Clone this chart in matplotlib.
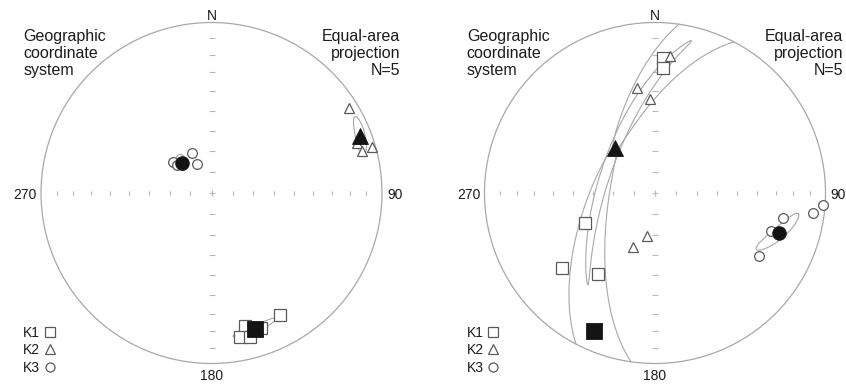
import numpy as np
import matplotlib.pyplot as plt
from matplotlib.lines import Line2D
from matplotlib.patches import Circle

plt.rcParams['font.family'] = ['Liberation Sans', 'DejaVu Sans']

# --- principal susceptibility axes, declination / inclination (deg) ---
# site A (left net)
a_k1_dec = [150.9, 165.8, 168.8, 165.2, 160.0]
a_k1_inc = [19.0, 20.7, 15.0, 13.8, 17.0]
a_k2_dec = [58.2, 73.9, 71.1, 74.6, 69.0]
a_k2_inc = [6.0, 2.1, 10.6, 9.2, 7.0]
a_k3_dec = [333.5, 332.7, 308.8, 309.1, 318.0]
a_k3_inc = [68.7, 74.6, 66.5, 68.7, 70.0]
a_mean_dec = [162.2, 69.2, 315.5]
a_mean_inc = [17.5, 7.3, 69.6]
# confidence ellipses: direction of the long axis, semi-angles along / across it
a_ell_dec = [69.2, 162.2, 162.2]
a_ell_inc = [7.3, 17.5, 17.5]
a_ell_major = [9.0, 7.5, 4.0]
a_ell_minor = [2.0, 3.0, 2.5]

# site B (right net)
b_k1_dec = [3.2, 3.5, 246.6, 231.2, 215.4]
b_k1_inc = [21.6, 27.6, 53.2, 30.5, 41.5]
b_k2_dec = [6.2, 350.1, 357.0, 201.8, 190.9]
b_k2_inc = [20.1, 37.7, 44.0, 62.0, 69.1]
b_k3_dec = [101.2, 108.3, 121.4, 97.3, 94.1]
b_k3_inc = [24.5, 28.9, 29.3, 7.4, 1.5]
b_mean_dec = [203.7, 318.0, 108.0]
b_mean_inc = [12.4, 61.2, 24.7]
b_ell_dec = [318.0, 203.7, 98.7]
b_ell_inc = [61.2, 12.4, 16.3]
b_ell_major = [92.0, 66.0, 12.5]
b_ell_minor = [9.0, 2.5, 3.0]

tick_incs = np.arange(10, 90, 10)
legend_labels = ['K1', 'K2', 'K3']
markers = ['s', '^', 'o']

R = 170.5            # net radius in pixels
CY = 193.0           # net centre, pixels from top
W, H = 846, 384
GREY = '#a8a8a8'
EDGE = '#5a5a5a'
INK = '#1c1c1c'


def dir2vec(dec, inc):
    dec = np.radians(np.asarray(dec, float))
    inc = np.radians(np.asarray(inc, float))
    return np.array([np.cos(inc) * np.cos(dec), np.cos(inc) * np.sin(dec), np.sin(inc)])


def to_xy(v):
    # Schmidt (equal-area) lower hemisphere, unit primitive
    n, e, d = v
    s = 1.0 / np.sqrt(1.0 + d)
    return e * s, n * s


def ellipse_xy(c_dec, c_inc, t_dec, t_inc, a, b, npts=3000):
    c = dir2vec(c_dec, c_inc)
    t = dir2vec(t_dec, t_inc)
    M = t - np.dot(t, c) * c
    M /= np.linalg.norm(M)
    m = np.cross(c, M)
    ang = np.linspace(0, 2 * np.pi, npts)
    r = np.radians(a * b / np.sqrt((b * np.cos(ang)) ** 2 + (a * np.sin(ang)) ** 2))
    pts = np.cos(r) * c[:, None] + np.sin(r) * (np.cos(ang) * M[:, None] + np.sin(ang) * m[:, None])
    # upper-hemisphere parts are folded back through the centre
    upper = pts[2] < 0
    pts[:, upper] *= -1
    x, y = to_xy(pts)
    jump = np.nonzero(np.diff(upper.astype(int)))[0] + 1
    return np.insert(x, jump, np.nan), np.insert(y, jump, np.nan)


def draw_net(ax, k1, k2, k3, mean_dec, mean_inc, ell_dec, ell_inc, ell_major, ell_minor):
    ax.add_patch(Circle((0, 0), 1.0, fill=False, ec=GREY, lw=0.9, zorder=1))
    rho = np.sqrt(1 - np.sin(np.radians(tick_incs)))
    rr = np.concatenate([rho, -rho])
    ax.plot(np.zeros_like(rr), rr, ls='none', marker='_', ms=4, mew=0.8, color='#b8b8b8', zorder=1)
    ax.plot(rr, np.zeros_like(rr), ls='none', marker='|', ms=3.5, mew=0.8, color='#b8b8b8', zorder=1)
    ax.plot([0], [0], marker='+', ms=4, mew=0.8, color='#b8b8b8', zorder=1)

    for i in range(3):
        x, y = ellipse_xy(mean_dec[i], mean_inc[i], ell_dec[i], ell_inc[i],
                          ell_major[i], ell_minor[i])
        ax.plot(x, y, color=GREY, lw=0.8, zorder=2)

    sizes = [8, 7.7, 7]
    for (dec, inc), mk, ms in zip([k1, k2, k3], markers, sizes):
        x, y = to_xy(dir2vec(dec, inc))
        ax.plot(x, y, ls='none', marker=mk, ms=ms, mfc='white', mec=EDGE, mew=0.9, zorder=3)

    mean_sizes = [11.5, 11, 9.8]
    for i in range(3):
        x, y = to_xy(dir2vec(mean_dec[i], mean_inc[i]))
        ax.plot([x], [y], ls='none', marker=markers[i], ms=mean_sizes[i],
                mfc='#141414', mec='#141414', mew=0.6, zorder=4)

    kw = dict(color=INK, fontsize=10, clip_on=False)
    ax.text(0, 173.5 / R, 'N', ha='center', va='baseline', **kw)
    ax.text(0, -187 / R, '180', ha='center', va='baseline', **kw)
    ax.text(-174.8 / R, -6 / R, '270', ha='right', va='baseline', **kw)
    ax.text(175.5 / R, -6 / R, '90', ha='left', va='baseline', **kw)

    ax.text(-188.2 / R, 163.5 / R, 'Geographic\ncoordinate\nsystem', ha='left', va='top',
            color=INK, fontsize=11.5, linespacing=1.15, clip_on=False)
    ax.text(188.5 / R, 163.5 / R, 'Equal-area\nprojection\nN=5', ha='right', va='top',
            multialignment='right', color=INK, fontsize=11.5, linespacing=1.15, clip_on=False)

    handles = [Line2D([], [], ls='none', marker=mk, ms=ms, mfc='white', mec=EDGE, mew=0.9)
               for mk, ms in zip(markers, [6.5, 7, 6.5])]
    ax.legend(handles, legend_labels, markerfirst=False, frameon=False, loc='lower left',
              bbox_to_anchor=(-188.5 / R, -181.7 / R), bbox_transform=ax.transData,
              borderaxespad=0, borderpad=0, handlelength=1.0, handletextpad=0.2,
              labelspacing=0.25, fontsize=10, labelcolor=INK)


fig = plt.figure(figsize=(W / 100, H / 100), dpi=100)
nets = [
    (211.5, (a_k1_dec, a_k1_inc), (a_k2_dec, a_k2_inc), (a_k3_dec, a_k3_inc),
     a_mean_dec, a_mean_inc, a_ell_dec, a_ell_inc, a_ell_major, a_ell_minor),
    (655.0, (b_k1_dec, b_k1_inc), (b_k2_dec, b_k2_inc), (b_k3_dec, b_k3_inc),
     b_mean_dec, b_mean_inc, b_ell_dec, b_ell_inc, b_ell_major, b_ell_minor),
]
for cx, *net in nets:
    ax = fig.add_axes([(cx - 211.5) / W, 0, 423 / W, 1])
    ax.set_xlim(-211.5 / R, 211.5 / R)
    ax.set_ylim(-(H - CY) / R, CY / R)
    ax.axis('off')
    draw_net(ax, *net)

fig.savefig('out.png', dpi=100, facecolor='white')
